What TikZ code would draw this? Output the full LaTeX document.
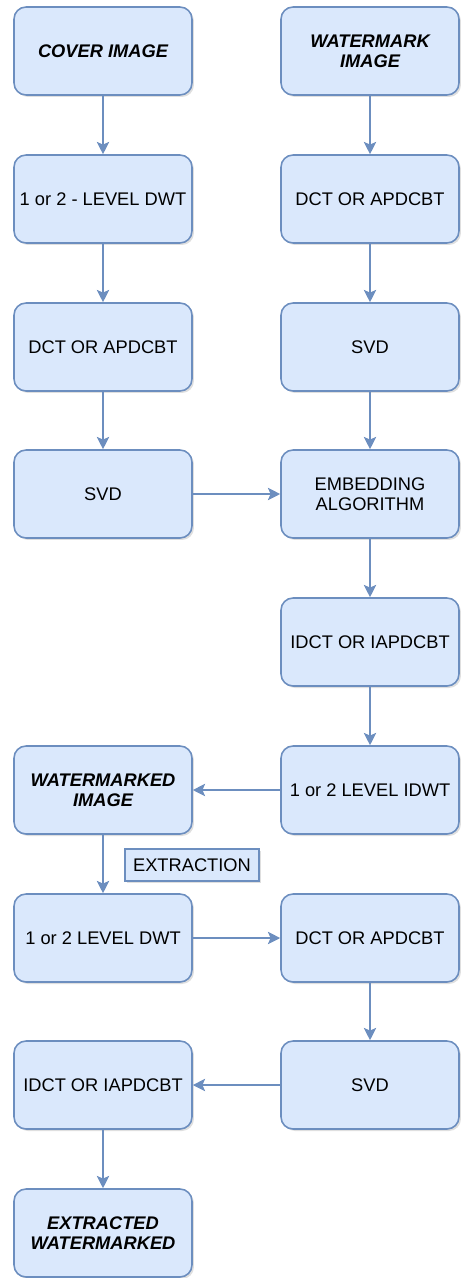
\documentclass[tikz,border=0pt]{standalone}
\usepackage{fontspec}
\setmainfont{Liberation Sans}
\usetikzlibrary{shadows,arrows.meta}

\definecolor{boxfill}{HTML}{DAE8FC}
\definecolor{boxline}{HTML}{6C8EBF}

\tikzset{
	blk/.style={draw=boxline, fill=boxfill, line width=0.9pt, rounded corners=0.24cm,
		minimum width=3.56cm, minimum height=1.76cm, inner sep=0pt, align=center,
		font=\fontsize{10.4}{11.6}\selectfont,
		drop shadow={shadow xshift=0.04cm, shadow yshift=-0.04cm, opacity=0.25}},
	io/.style={blk, font=\fontsize{10.4}{11.6}\selectfont\bfseries\itshape},
	flow/.style={draw=boxline, line width=1pt, -{Stealth[length=7pt, width=7pt, inset=1.5pt]}}
}

\begin{document}
\begin{tikzpicture}[x=0.02cm, y=-0.02cm]
		\useasboundingbox (0, 0) rectangle (464, 1278);

		% 左の列
		\node[io] (cover) at (103, 51) {COVER IMAGE};
		\node[blk] (ldwt) at (103, 199) {1 or 2 - LEVEL DWT};
		\node[blk] (ldct) at (103, 347) {DCT OR APDCBT};
		\node[blk] (lsvd) at (103, 494) {SVD};
		\node[io] (marked) at (103, 790) {WATERMARKED\\IMAGE};
		\node[blk] (edwt) at (103, 938) {1 or 2 LEVEL DWT};
		\node[blk] (eidct) at (103, 1085) {IDCT OR IAPDCBT};
		\node[io] (extracted) at (103, 1233) {EXTRACTED\\WATERMARKED};

		% 右の列
		\node[io] (wm) at (370, 51) {WATERMARK\\IMAGE};
		\node[blk] (rdct) at (370, 199) {DCT OR APDCBT};
		\node[blk] (rsvd) at (370, 347) {SVD};
		\node[blk] (embed) at (370, 494) {EMBEDDING\\ALGORITHM};
		\node[blk] (ridct) at (370, 642) {IDCT OR IAPDCBT};
		\node[blk] (ridwt) at (370, 790) {1 or 2 LEVEL IDWT};
		\node[blk] (edct) at (370, 938) {DCT OR APDCBT};
		\node[blk] (esvd) at (370, 1085) {SVD};

		% EXTRACTIONの文字
		\node[draw=boxline, fill=boxfill, line width=0.9pt, minimum width=2.68cm, minimum height=0.64cm,
			inner sep=0pt, font=\fontsize{10.4}{11.6}\selectfont,
			drop shadow={shadow xshift=0.04cm, shadow yshift=-0.04cm, opacity=0.25}]
			(extr) at (192, 865) {EXTRACTION};

		% 矢印
		\draw[flow] (cover) -- (ldwt);
		\draw[flow] (ldwt) -- (ldct);
		\draw[flow] (ldct) -- (lsvd);
		\draw[flow] (lsvd) -- (embed);
		\draw[flow] (wm) -- (rdct);
		\draw[flow] (rdct) -- (rsvd);
		\draw[flow] (rsvd) -- (embed);
		\draw[flow] (embed) -- (ridct);
		\draw[flow] (ridct) -- (ridwt);
		\draw[flow] (ridwt) -- (marked);
		\draw[flow] (marked) -- (edwt);
		\draw[flow] (edwt) -- (edct);
		\draw[flow] (edct) -- (esvd);
		\draw[flow] (esvd) -- (eidct);
		\draw[flow] (eidct) -- (extracted);
\end{tikzpicture}
\end{document}
